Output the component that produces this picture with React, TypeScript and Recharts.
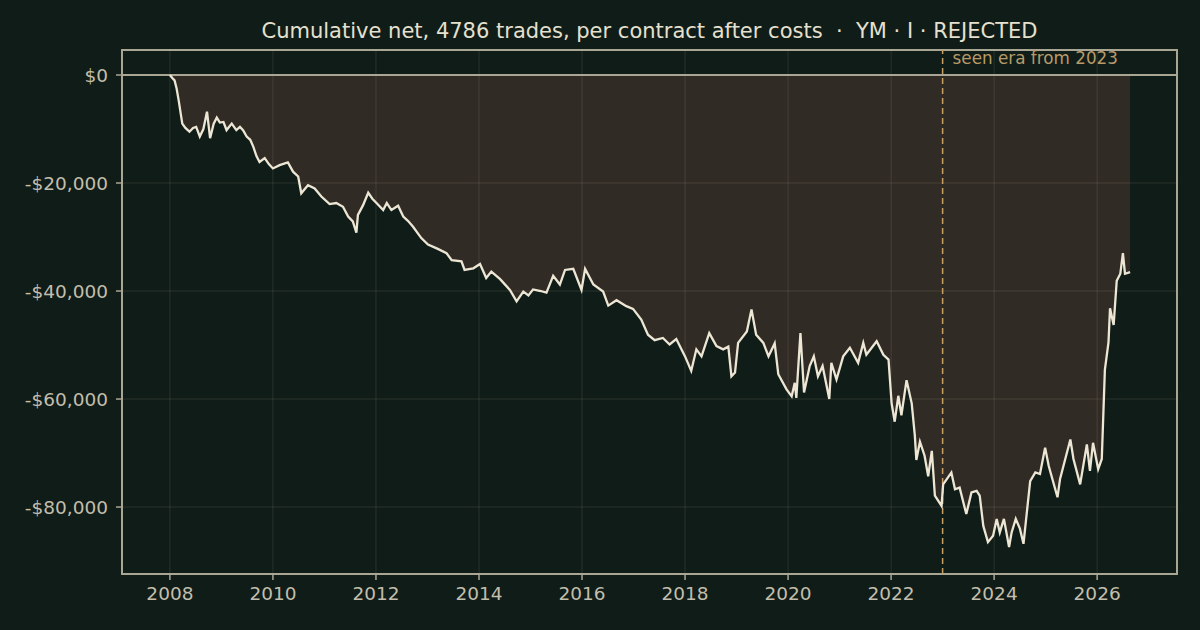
import React from 'react';
import {
  ComposedChart,
  Area,
  Line,
  XAxis,
  YAxis,
  ReferenceLine,
  ReferenceArea,
} from 'recharts';

// decimal year of each sample
const YEARS = [
  2008.0, 2008.05, 2008.09, 2008.13, 2008.17, 2008.24, 2008.3, 2008.38, 2008.45, 2008.51,
  2008.58, 2008.65, 2008.72, 2008.78, 2008.85, 2008.91, 2008.97, 2009.04, 2009.1, 2009.2,
  2009.29, 2009.36, 2009.42, 2009.49, 2009.56, 2009.62, 2009.68, 2009.74, 2009.84, 2009.92,
  2010.0, 2010.13, 2010.29, 2010.39, 2010.49, 2010.55, 2010.68, 2010.81, 2010.94, 2011.1,
  2011.23, 2011.36, 2011.46, 2011.55, 2011.62, 2011.65, 2011.75, 2011.85, 2011.93, 2012.01,
  2012.14, 2012.21, 2012.3, 2012.43, 2012.53, 2012.62, 2012.72, 2012.88, 2013.01, 2013.2,
  2013.37, 2013.47, 2013.66, 2013.72, 2013.89, 2014.02, 2014.14, 2014.24, 2014.41, 2014.6,
  2014.73, 2014.86, 2014.96, 2015.05, 2015.2, 2015.31, 2015.44, 2015.57, 2015.67, 2015.83,
  2015.99, 2016.06, 2016.22, 2016.41, 2016.51, 2016.67, 2016.86, 2016.99, 2017.15, 2017.28,
  2017.41, 2017.57, 2017.7, 2017.83, 2018.0, 2018.12, 2018.22, 2018.32, 2018.47, 2018.61,
  2018.74, 2018.84, 2018.9, 2018.97, 2019.03, 2019.2, 2019.29, 2019.38, 2019.52, 2019.62,
  2019.74, 2019.81, 2019.97, 2020.07, 2020.13, 2020.16, 2020.24, 2020.31, 2020.42, 2020.5,
  2020.58, 2020.67, 2020.8, 2020.84, 2020.94, 2021.07, 2021.2, 2021.36, 2021.46, 2021.52,
  2021.72, 2021.85, 2021.95, 2022.01, 2022.07, 2022.14, 2022.2, 2022.3, 2022.4, 2022.46,
  2022.49, 2022.56, 2022.65, 2022.72, 2022.79, 2022.85, 2022.98, 2023.01, 2023.17, 2023.24,
  2023.33, 2023.46, 2023.56, 2023.66, 2023.72, 2023.79, 2023.88, 2023.98, 2024.05, 2024.11,
  2024.19, 2024.29, 2024.34, 2024.42, 2024.5, 2024.57, 2024.7, 2024.8, 2024.89, 2024.99,
  2025.06, 2025.23, 2025.28, 2025.48, 2025.54, 2025.67, 2025.8, 2025.86, 2025.92, 2026.02,
  2026.09, 2026.15, 2026.22, 2026.25, 2026.32, 2026.38, 2026.45, 2026.5, 2026.54, 2026.64,
];

// cumulative net $ per contract
const NET = [
  0, -600, -1000, -2500, -4700, -9000, -9800, -10500, -9800, -9600,
  -11400, -10000, -6800, -11700, -9000, -7900, -8800, -8700, -10200, -9000,
  -10200, -9600, -10200, -11400, -12000, -13300, -15000, -16100, -15400, -16500,
  -17300, -16700, -16200, -17900, -18800, -21900, -20400, -21000, -22500, -23900,
  -23700, -24400, -26200, -27100, -29200, -25900, -24100, -21800, -22900, -23700,
  -25000, -23700, -25000, -24200, -26200, -27000, -28100, -30200, -31400, -32200,
  -33000, -34300, -34500, -36100, -35800, -35000, -37600, -36400, -37800, -39800,
  -41900, -40100, -40800, -39700, -40000, -40300, -37200, -38800, -36100, -35900,
  -39800, -35900, -38800, -40100, -42700, -41700, -42800, -43300, -45300, -48100,
  -49100, -48700, -49900, -48900, -52100, -54800, -50800, -52100, -47800, -50200,
  -50800, -50300, -55800, -55100, -49600, -47500, -43400, -48100, -49600, -52100,
  -49700, -55400, -58200, -59500, -57000, -59800, -47800, -58800, -53900, -52100,
  -55800, -53900, -60000, -53300, -56400, -52100, -50500, -53300, -49600, -51800,
  -49300, -51800, -52700, -60800, -64200, -59400, -63000, -56500, -60800, -66700,
  -71300, -67900, -70500, -74300, -69600, -77900, -79800, -75800, -73600, -76700,
  -76400, -81300, -77300, -77000, -77900, -83500, -86500, -85300, -82200, -84700,
  -82200, -87400, -84700, -82200, -84000, -86800, -75200, -73600, -73900, -69000,
  -72400, -78200, -74800, -67500, -71100, -75800, -68400, -73300, -68100, -73000,
  -71100, -54600, -49500, -43200, -46300, -38100, -36800, -33000, -36800, -36500,
];

const X_TICKS = [2008, 2010, 2012, 2014, 2016, 2018, 2020, 2022, 2024, 2026];
const Y_TICKS = [0, -20000, -40000, -60000, -80000];
const ERA_START = 2023;

const X_DOMAIN: [number, number] = [2007.07, 2027.55];
const Y_DOMAIN: [number, number] = [-92400, 4630];

const BG = '#0f1c17';
const FRAME = '#aaa694';
const TICK_TEXT = '#c3beac';
const GRID = 'rgba(215, 210, 185, 0.13)';
const FONT = '"DejaVu Sans", sans-serif';

const data = YEARS.map((t, i) => ({ t, v: NET[i] }));

const fmtMoney = (v: number) =>
  v === 0 ? '$0' : (v < 0 ? '-$' : '$') + Math.abs(v).toLocaleString('en-US');

export default function App() {
  return (
    <div
      style={{
        position: 'fixed',
        left: 0,
        top: 0,
        width: 1200,
        height: 630,
        background: BG,
        fontFamily: FONT,
      }}
    >
      <div
        style={{
          position: 'absolute',
          top: 17,
          left: 122,
          width: 1055,
          textAlign: 'center',
          color: '#e6e0cf',
          fontSize: 21,
          whiteSpace: 'pre',
          lineHeight: '28px',
        }}
      >
        {'Cumulative net, 4786 trades, per contract after costs  ·  YM · I · REJECTED'}
      </div>
      <ComposedChart
        width={1200}
        height={630}
        data={data}
        margin={{ top: 50, right: 23, bottom: 26, left: 0 }}
      >
        <XAxis
          dataKey="t"
          type="number"
          domain={X_DOMAIN}
          ticks={X_TICKS}
          allowDataOverflow
          axisLine={false}
          tickLine={{ stroke: FRAME, strokeWidth: 1.5 }}
          tickSize={6}
          tickMargin={7}
          height={30}
          tick={{ fill: TICK_TEXT, fontSize: 18.5, fontFamily: FONT }}
        />
        <YAxis
          type="number"
          domain={Y_DOMAIN}
          ticks={Y_TICKS}
          allowDataOverflow
          axisLine={false}
          tickLine={{ stroke: FRAME, strokeWidth: 1.5 }}
          tickSize={6}
          tickMargin={8}
          width={122}
          tickFormatter={fmtMoney}
          tick={{ fill: TICK_TEXT, fontSize: 18.5, fontFamily: FONT }}
        />
        <Area
          type="linear"
          dataKey="v"
          baseValue={0}
          stroke="none"
          fill="#312b25"
          fillOpacity={1}
          isAnimationActive={false}
        />
        {X_TICKS.map((t) => (
          <ReferenceLine key={'gx' + t} x={t} stroke={GRID} strokeWidth={1} />
        ))}
        {Y_TICKS.filter((t) => t !== 0).map((t) => (
          <ReferenceLine key={'gy' + t} y={t} stroke={GRID} strokeWidth={1} />
        ))}
        <ReferenceLine y={0} stroke={FRAME} strokeWidth={2} />
        <ReferenceLine
          x={ERA_START}
          stroke="#c9a064"
          strokeWidth={1.5}
          strokeDasharray="6 4"
          label={(p: any) => (
            <text
              x={p.viewBox.x + 10}
              y={p.viewBox.y + 14}
              fill="#b89a68"
              fontSize={16.8}
              fontFamily={FONT}
            >
              seen era from 2023
            </text>
          )}
        />
        <Line
          type="linear"
          dataKey="v"
          stroke="#ede6d4"
          strokeWidth={2.3}
          dot={false}
          activeDot={false}
          isAnimationActive={false}
        />
        <ReferenceArea
          x1={X_DOMAIN[0]}
          x2={X_DOMAIN[1]}
          y1={Y_DOMAIN[0]}
          y2={Y_DOMAIN[1]}
          fill="none"
          fillOpacity={0}
          stroke={FRAME}
          strokeWidth={2}
        />
      </ComposedChart>
    </div>
  );
}
